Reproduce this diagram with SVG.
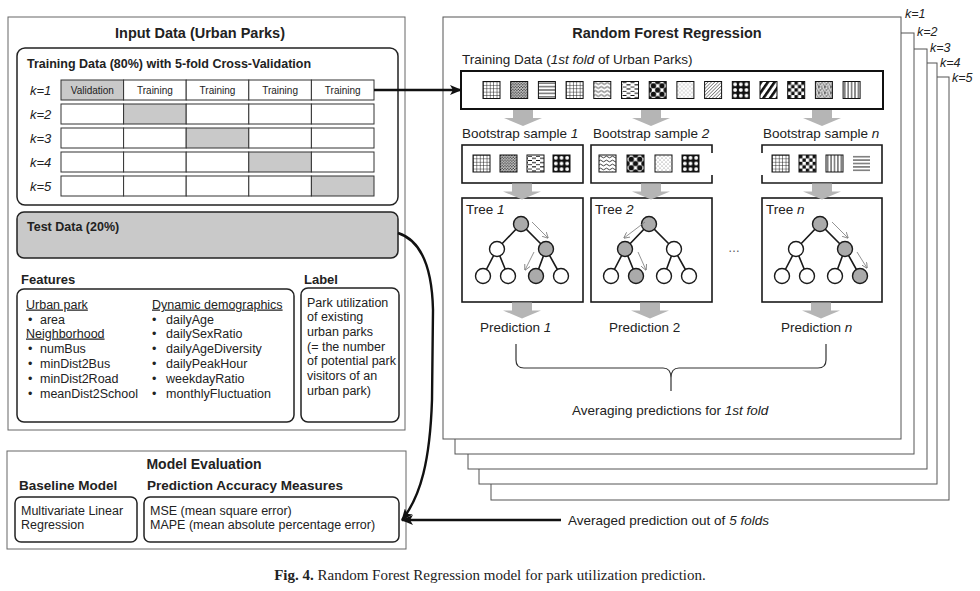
<svg xmlns="http://www.w3.org/2000/svg" xmlns:xlink="http://www.w3.org/1999/xlink" width="980" height="591" viewBox="0 0 980 591">
<style>
text{font-family:"Liberation Sans",Arial,sans-serif;fill:#222}
.title{font-size:14.5px;font-weight:bold}
.h{font-size:13px;font-weight:bold}
.h2{font-size:13.5px;font-weight:bold}
.b{font-size:12.5px}
.rf{font-size:13.5px}
.cell{font-size:10px}
.k{font-size:13px;font-style:italic}
.ks{font-size:12.5px;font-style:italic}
.u{text-decoration:underline}
.outer{fill:#fff;stroke:#666;stroke-width:1}
.rbox{fill:#fff;stroke:#222;stroke-width:1.5}
.cellr{fill:#fff;stroke:#333;stroke-width:1}
.cellg{fill:#c9c9c9;stroke:#333;stroke-width:1}
.stack{fill:#fff;stroke:#555;stroke-width:1}
.bx{fill:#fff;stroke:#1a1a1a;stroke-width:1.6}
.edge{fill:none;stroke:#1a1a1a;stroke-width:1.6}
.nw{fill:#fff;stroke:#1a1a1a;stroke-width:1.4}
.ng{fill:#aaa;stroke:#1a1a1a;stroke-width:1.4}
.sa{stroke:#777;stroke-width:0.8;fill:none;marker-end:url(#thin)}
.ic{stroke:#111;stroke-width:1}
.blk{fill:#b5b5b5}
</style>
<defs>
<marker id="head" viewBox="0 0 12 10" refX="11" refY="5" markerWidth="12" markerHeight="10" markerUnits="userSpaceOnUse" orient="auto">
<path d="M0,0 L12,5 L0,10 L3,5 Z" fill="#111"/>
</marker>
<marker id="thin" viewBox="0 0 6 6" refX="5.5" refY="3" markerWidth="6" markerHeight="6" markerUnits="userSpaceOnUse" orient="auto">
<path d="M0,0 L6,3 L0,6" fill="none" stroke="#777" stroke-width="0.8"/>
</marker>
<pattern id="p-grid" width="3.4" height="3.4" patternUnits="userSpaceOnUse"><rect width="3.4" height="3.4" fill="#fff"/><path d="M0,0H3.4M0,0V3.4" stroke="#111" stroke-width="1"/></pattern>
<pattern id="p-hl" width="17" height="3.4" patternUnits="userSpaceOnUse"><rect width="17" height="3.4" fill="#fff"/><path d="M0,1.7H17" stroke="#111" stroke-width="0.9"/></pattern>
<pattern id="p-vl" width="3.4" height="17" patternUnits="userSpaceOnUse"><rect width="3.4" height="17" fill="#fff"/><path d="M1.7,0V17" stroke="#111" stroke-width="0.9"/></pattern>
<pattern id="p-fdot" width="2.8" height="2.8" patternUnits="userSpaceOnUse"><rect width="2.8" height="2.8" fill="#ddd"/><circle cx="0.7" cy="0.7" r="0.75" fill="#222"/><circle cx="2.1" cy="2.1" r="0.75" fill="#222"/></pattern>
<pattern id="p-wave" width="6" height="4" patternUnits="userSpaceOnUse"><rect width="6" height="4" fill="#fff"/><path d="M0,2 Q1.5,0.3 3,2 T6,2" fill="none" stroke="#111" stroke-width="0.8"/></pattern>
<pattern id="p-brick" width="8" height="4.25" patternUnits="userSpaceOnUse"><rect width="8" height="4.25" fill="#fff"/><path d="M1,1.2H5M5,3.3H9M-3,3.3H1" stroke="#111" stroke-width="0.9"/></pattern>
<pattern id="p-bigdot" width="8.5" height="8.5" patternUnits="userSpaceOnUse"><rect width="8.5" height="8.5" fill="#fff"/><g fill="#111"><circle cx="0" cy="0" r="2.7"/><circle cx="8.5" cy="0" r="2.7"/><circle cx="0" cy="8.5" r="2.7"/><circle cx="8.5" cy="8.5" r="2.7"/><circle cx="4.25" cy="4.25" r="2.7"/></g></pattern>
<pattern id="p-ldot" width="4" height="4" patternUnits="userSpaceOnUse"><rect width="4" height="4" fill="#fff"/><circle cx="1" cy="1" r="0.5" fill="#555"/><circle cx="3" cy="3" r="0.5" fill="#555"/></pattern>
<pattern id="p-diag" width="2.4" height="2.4" patternUnits="userSpaceOnUse" patternTransform="rotate(45)"><rect width="2.4" height="2.4" fill="#fff"/><path d="M0,0V2.4" stroke="#111" stroke-width="0.9"/></pattern>
<pattern id="p-wcirc" width="5.67" height="5.67" patternUnits="userSpaceOnUse"><rect width="5.67" height="5.67" fill="#111"/><circle cx="2.83" cy="2.83" r="1.9" fill="#fff"/></pattern>
<pattern id="p-thick" width="5.5" height="5.5" patternUnits="userSpaceOnUse" patternTransform="rotate(35)"><rect width="5.5" height="5.5" fill="#fff"/><rect width="2.6" height="5.5" fill="#111"/></pattern>
<pattern id="p-check" width="6.8" height="6.8" patternUnits="userSpaceOnUse"><rect width="6.8" height="6.8" fill="#fff"/><rect width="3.4" height="3.4" fill="#111"/><rect x="3.4" y="3.4" width="3.4" height="3.4" fill="#111"/></pattern>
<pattern id="p-speck" width="6" height="6" patternUnits="userSpaceOnUse"><rect width="6" height="6" fill="#eee"/><g fill="#111"><circle cx="0.8" cy="1" r="0.8"/><circle cx="3.5" cy="0.6" r="0.6"/><circle cx="5" cy="2.6" r="0.8"/><circle cx="2.2" cy="3" r="0.7"/><circle cx="0.6" cy="4.8" r="0.6"/><circle cx="3.6" cy="5" r="0.9"/><circle cx="5.4" cy="5.4" r="0.4"/></g></pattern>
<g id="i-grid"><rect width="17" height="17" fill="url(#p-grid)" class="ic"/></g>
<g id="i-fdot"><rect width="17" height="17" fill="url(#p-fdot)" class="ic"/></g>
<g id="i-hl"><rect width="17" height="17" fill="url(#p-hl)" class="ic"/></g>
<g id="i-hln"><rect width="17" height="17" fill="url(#p-hl)"/></g>
<g id="i-vl"><rect width="17" height="17" fill="url(#p-vl)" class="ic"/></g>
<g id="i-wave"><rect width="17" height="17" fill="url(#p-wave)" class="ic"/></g>
<g id="i-brick"><rect width="17" height="17" fill="url(#p-brick)" class="ic"/></g>
<g id="i-bigdot"><rect width="17" height="17" fill="url(#p-bigdot)" class="ic"/></g>
<g id="i-ldot"><rect width="17" height="17" fill="url(#p-ldot)" class="ic"/></g>
<g id="i-diag"><rect width="17" height="17" fill="url(#p-diag)" class="ic"/></g>
<g id="i-wcirc"><rect width="17" height="17" fill="url(#p-wcirc)" class="ic"/></g>
<g id="i-thick"><rect width="17" height="17" fill="url(#p-thick)" class="ic"/></g>
<g id="i-check"><rect width="17" height="17" fill="url(#p-check)" class="ic"/></g>
<g id="i-speck"><rect width="17" height="17" fill="url(#p-speck)" class="ic"/></g>
<path id="blk" d="M-10,0H10V8H19L0,16L-19,8H-10Z"/>
</defs>

<rect width="980" height="591" fill="#fff"/>

<!-- Input data -->
<g id="input-data">
<rect class="outer" x="8" y="17" width="397" height="413"/>
<text class="title" x="200" y="38" text-anchor="middle">Input Data (Urban Parks)</text>
</g>

<g id="training-data">
<rect class="rbox" x="17" y="48" width="381" height="157" rx="8"/>
<text class="h" x="27" y="68" style="font-size:12.5px">Training Data (80%) with 5-fold Cross-Validation</text>
<text class="k" x="30" y="95">k=1</text>
<text class="k" x="30" y="119">k=2</text>
<text class="k" x="30" y="143">k=3</text>
<text class="k" x="30" y="167">k=4</text>
<text class="k" x="30" y="191">k=5</text>
<g>
<rect class="cellg" x="61" y="80" width="62.6" height="20"/>
<rect class="cellr" x="123.6" y="80" width="62.6" height="20"/>
<rect class="cellr" x="186.2" y="80" width="62.6" height="20"/>
<rect class="cellr" x="248.8" y="80" width="62.6" height="20"/>
<rect class="cellr" x="311.4" y="80" width="62.6" height="20"/>
<text class="cell" x="92.3" y="94" text-anchor="middle">Validation</text>
<text class="cell" x="154.9" y="94" text-anchor="middle">Training</text>
<text class="cell" x="217.5" y="94" text-anchor="middle">Training</text>
<text class="cell" x="280.1" y="94" text-anchor="middle">Training</text>
<text class="cell" x="342.7" y="94" text-anchor="middle">Training</text>
</g>
<g>
<rect class="cellr" x="61" y="104" width="62.6" height="20"/>
<rect class="cellg" x="123.6" y="104" width="62.6" height="20"/>
<rect class="cellr" x="186.2" y="104" width="62.6" height="20"/>
<rect class="cellr" x="248.8" y="104" width="62.6" height="20"/>
<rect class="cellr" x="311.4" y="104" width="62.6" height="20"/>
</g>
<g>
<rect class="cellr" x="61" y="128" width="62.6" height="20"/>
<rect class="cellr" x="123.6" y="128" width="62.6" height="20"/>
<rect class="cellg" x="186.2" y="128" width="62.6" height="20"/>
<rect class="cellr" x="248.8" y="128" width="62.6" height="20"/>
<rect class="cellr" x="311.4" y="128" width="62.6" height="20"/>
</g>
<g>
<rect class="cellr" x="61" y="152" width="62.6" height="20"/>
<rect class="cellr" x="123.6" y="152" width="62.6" height="20"/>
<rect class="cellr" x="186.2" y="152" width="62.6" height="20"/>
<rect class="cellg" x="248.8" y="152" width="62.6" height="20"/>
<rect class="cellr" x="311.4" y="152" width="62.6" height="20"/>
</g>
<g>
<rect class="cellr" x="61" y="176" width="62.6" height="20"/>
<rect class="cellr" x="123.6" y="176" width="62.6" height="20"/>
<rect class="cellr" x="186.2" y="176" width="62.6" height="20"/>
<rect class="cellr" x="248.8" y="176" width="62.6" height="20"/>
<rect class="cellg" x="311.4" y="176" width="62.6" height="20"/>
</g>
</g>

<g id="test-data">
<rect x="17" y="212" width="381" height="46" rx="7" fill="#c9c9c9" stroke="#222" stroke-width="1.5"/>
<text class="h" x="27" y="231" style="font-size:12.5px">Test Data (20%)</text>
</g>

<g id="features">
<text class="h" x="21" y="284">Features</text>
<rect class="rbox" x="17" y="289" width="277" height="133" rx="7"/>
<text class="b u" x="26" y="308.5">Urban park</text>
<text class="b" x="28" y="323.5">•<tspan x="40">area</tspan></text>
<text class="b u" x="26" y="337.5">Neighborhood</text>
<text class="b" x="28" y="353">•<tspan x="40">numBus</tspan></text>
<text class="b" x="28" y="367.5">•<tspan x="40">minDist2Bus</tspan></text>
<text class="b" x="28" y="382.5">•<tspan x="40">minDist2Road</tspan></text>
<text class="b" x="28" y="397.5">•<tspan x="40">meanDist2School</tspan></text>
<text class="b u" x="152" y="308.5">Dynamic demographics</text>
<text class="b" x="152" y="323.5">•<tspan x="166">dailyAge</tspan></text>
<text class="b" x="152" y="337.5">•<tspan x="166">dailySexRatio</tspan></text>
<text class="b" x="152" y="353">•<tspan x="166">dailyAgeDiversity</tspan></text>
<text class="b" x="152" y="367.5">•<tspan x="166">dailyPeakHour</tspan></text>
<text class="b" x="152" y="382.5">•<tspan x="166">weekdayRatio</tspan></text>
<text class="b" x="152" y="397.5">•<tspan x="166">monthlyFluctuation</tspan></text>
</g>

<g id="label">
<text class="h" x="304" y="284">Label</text>
<rect class="rbox" x="301" y="288" width="98" height="134" rx="7"/>
<text class="b" x="307" y="306.5">Park utilization</text>
<text class="b" x="307" y="321">of existing</text>
<text class="b" x="307" y="335.5">urban parks</text>
<text class="b" x="307" y="350.5">(= the number</text>
<text class="b" x="307" y="365">of potential park</text>
<text class="b" x="307" y="379.5">visitors of an</text>
<text class="b" x="307" y="394.5">urban park)</text>
</g>

<g id="model-evaluation">
<rect class="outer" x="7" y="451" width="399" height="98"/>
<text class="title" x="204" y="469" text-anchor="middle" style="font-size:14px">Model Evaluation</text>
<g id="baseline-model">
<text class="h2" x="19" y="490">Baseline Model</text>
<rect class="rbox" x="15" y="497" width="122" height="45" rx="6"/>
<text class="b" x="21" y="514.5">Multivariate Linear</text>
<text class="b" x="21" y="528.5">Regression</text>
</g>
<g id="accuracy-measures">
<text class="h2" x="147" y="490">Prediction Accuracy Measures</text>
<rect class="rbox" x="144" y="497" width="255" height="45" rx="6"/>
<text class="b" x="150" y="514.5">MSE (mean square error)</text>
<text class="b" x="150" y="528.5">MAPE (mean absolute percentage error)</text>
</g>
</g>

<!-- Random forest stack -->
<g id="rf-stack">
<rect class="stack" x="491" y="77" width="458" height="423"/>
<rect class="stack" x="479" y="63" width="458" height="421"/>
<rect class="stack" x="468" y="49" width="459" height="420"/>
<rect class="stack" x="455" y="33" width="459" height="421"/>
<text class="ks" x="905" y="18">k=1</text>
<text class="ks" x="917" y="36">k=2</text>
<text class="ks" x="930" y="52">k=3</text>
<text class="ks" x="940" y="67">k=4</text>
<text class="ks" x="952" y="82">k=5</text>
</g>

<g id="random-forest">
<rect class="stack" x="443" y="17" width="458" height="422"/>
<text class="title" x="667" y="38" text-anchor="middle">Random Forest Regression</text>
</g>

<g id="training-sample">
<text class="rf" x="462" y="64">Training Data (<tspan font-style="italic">1st fold</tspan> of Urban Parks)</text>
<rect x="461" y="71" width="422" height="38" fill="#fff" stroke="#111" stroke-width="2"/>
<use href="#i-grid" x="483" y="81.5"/>
<use href="#i-fdot" x="510.7" y="81.5"/>
<use href="#i-hl" x="538.4" y="81.5"/>
<use href="#i-grid" x="566.1" y="81.5"/>
<use href="#i-wave" x="593.8" y="81.5"/>
<use href="#i-brick" x="621.5" y="81.5"/>
<use href="#i-bigdot" x="649.2" y="81.5"/>
<use href="#i-ldot" x="676.9" y="81.5"/>
<use href="#i-diag" x="704.6" y="81.5"/>
<use href="#i-wcirc" x="732.3" y="81.5"/>
<use href="#i-thick" x="760" y="81.5"/>
<use href="#i-check" x="787.7" y="81.5"/>
<use href="#i-speck" x="815.4" y="81.5"/>
<use href="#i-vl" x="843.1" y="81.5"/>
</g>

<g id="bootstrap-1">
<text class="rf" x="462" y="138">Bootstrap sample <tspan font-style="italic">1</tspan></text>
<rect class="bx" x="462" y="145" width="121" height="38"/>
<use href="#i-grid" x="473" y="155"/>
<use href="#i-fdot" x="500" y="155"/>
<use href="#i-brick" x="527" y="155"/>
<use href="#i-wcirc" x="553" y="155"/>
</g>

<g id="bootstrap-2">
<text class="rf" x="593" y="138">Bootstrap sample <tspan font-style="italic">2</tspan></text>
<path d="M712,153V145H591V183H712V175" fill="#fff" stroke="#1a1a1a" stroke-width="1.6"/>
<use href="#i-wave" x="599" y="155"/>
<use href="#i-bigdot" x="627" y="155"/>
<use href="#i-ldot" x="655" y="155"/>
<use href="#i-wcirc" x="682" y="155"/>
</g>

<g id="bootstrap-n">
<text class="rf" x="763" y="138">Bootstrap sample <tspan font-style="italic">n</tspan></text>
<path d="M762,153V145H882V183H762V175" fill="#fff" stroke="#1a1a1a" stroke-width="1.6"/>
<use href="#i-grid" x="772" y="155"/>
<use href="#i-check" x="799" y="155"/>
<use href="#i-vl" x="826" y="155"/>
<use href="#i-hln" x="853" y="155"/>
</g>

<g id="tree-1">
<rect class="bx" x="462" y="198" width="121" height="104"/>
<text class="rf" x="466" y="214">Tree <tspan font-style="italic">1</tspan></text>
<path class="edge" d="M497,249L521,224L546,249M483,276L497,249L508,276M536,276L546,249L561,276"/>
<circle class="ng" cx="521" cy="224" r="7.5"/>
<circle class="nw" cx="497" cy="249" r="7.5"/>
<circle class="ng" cx="546" cy="249" r="7.5"/>
<circle class="nw" cx="483" cy="276" r="7.5"/>
<circle class="nw" cx="508" cy="276" r="7.5"/>
<circle class="ng" cx="536" cy="276" r="7.5"/>
<circle class="nw" cx="561" cy="276" r="7.5"/>
<path class="sa" d="M532,222L548,238"/>
<path class="sa" d="M534,252L525,270"/>
</g>

<g id="tree-2">
<rect class="bx" x="591" y="198" width="121" height="104"/>
<text class="rf" x="595" y="214">Tree <tspan font-style="italic">2</tspan></text>
<path class="edge" d="M625,249L649,224L674,249M611,276L625,249L636,276M664,276L674,249L689,276"/>
<circle class="ng" cx="649" cy="224" r="7.5"/>
<circle class="ng" cx="625" cy="249" r="7.5"/>
<circle class="nw" cx="674" cy="249" r="7.5"/>
<circle class="nw" cx="611" cy="276" r="7.5"/>
<circle class="ng" cx="636" cy="276" r="7.5"/>
<circle class="nw" cx="664" cy="276" r="7.5"/>
<circle class="nw" cx="689" cy="276" r="7.5"/>
<path class="sa" d="M645,222L624,238"/>
<path class="sa" d="M638,252L646,270"/>
</g>

<text x="728" y="252" style="font-size:12px;fill:#555">…</text>

<g id="tree-n">
<rect class="bx" x="762" y="198" width="120" height="104"/>
<text class="rf" x="766" y="214">Tree <tspan font-style="italic">n</tspan></text>
<path class="edge" d="M796,249L820,224L845,249M782,276L796,249L807,276M835,276L845,249L860,276"/>
<circle class="ng" cx="820" cy="224" r="7.5"/>
<circle class="nw" cx="796" cy="249" r="7.5"/>
<circle class="ng" cx="845" cy="249" r="7.5"/>
<circle class="nw" cx="782" cy="276" r="7.5"/>
<circle class="nw" cx="807" cy="276" r="7.5"/>
<circle class="nw" cx="835" cy="276" r="7.5"/>
<circle class="ng" cx="860" cy="276" r="7.5"/>
<path class="sa" d="M832,222L848,238"/>
<path class="sa" d="M857,252L867,268"/>
</g>

<g id="predictions">
<text class="rf" x="480" y="332">Prediction <tspan font-style="italic">1</tspan></text>
<text class="rf" x="609" y="332">Prediction 2</text>
<text class="rf" x="781" y="332">Prediction <tspan font-style="italic">n</tspan></text>
</g>

<g id="averaging">
<text class="rf" x="572" y="415">Averaging predictions for <tspan font-style="italic">1st fold</tspan></text>
</g>

<g id="averaged-output">
<text class="rf" x="568" y="525">Averaged prediction out of <tspan font-style="italic">5 folds</tspan></text>
</g>

<!-- Connectors -->
<g id="connectors">
<path d="M374,90H461" stroke="#111" stroke-width="2.6" fill="none" marker-end="url(#head)"/>
<g class="blk">
<use href="#blk" x="523" y="110"/>
<use href="#blk" x="651" y="110"/>
<use href="#blk" x="822" y="110"/>
<use href="#blk" x="522" y="183.5"/>
<use href="#blk" x="651" y="183.5"/>
<use href="#blk" x="822" y="183.5"/>
<use href="#blk" x="522" y="302.5"/>
<use href="#blk" x="650" y="302.5"/>
<use href="#blk" x="821" y="302.5"/>
</g>
<path d="M516,344V360Q516,368 524,368H663Q671,368 671,378V391M671,378Q671,368 679,368H818Q826,368 826,360V344" fill="none" stroke="#333" stroke-width="1.2"/>
<path d="M398,233C420,240 432,265 433,310L432,400C430,460 421,496 402,520" fill="none" stroke="#111" stroke-width="2.4" marker-end="url(#head)"/>
<path d="M561,520H402" fill="none" stroke="#111" stroke-width="2.4" marker-end="url(#head)"/>
</g>

<text id="caption" x="490" y="580" text-anchor="middle" style="font-family:'Liberation Serif','Times New Roman',serif;font-size:15px;fill:#222"><tspan font-weight="bold">Fig. 4.</tspan> Random Forest Regression model for park utilization prediction.</text>
</svg>
